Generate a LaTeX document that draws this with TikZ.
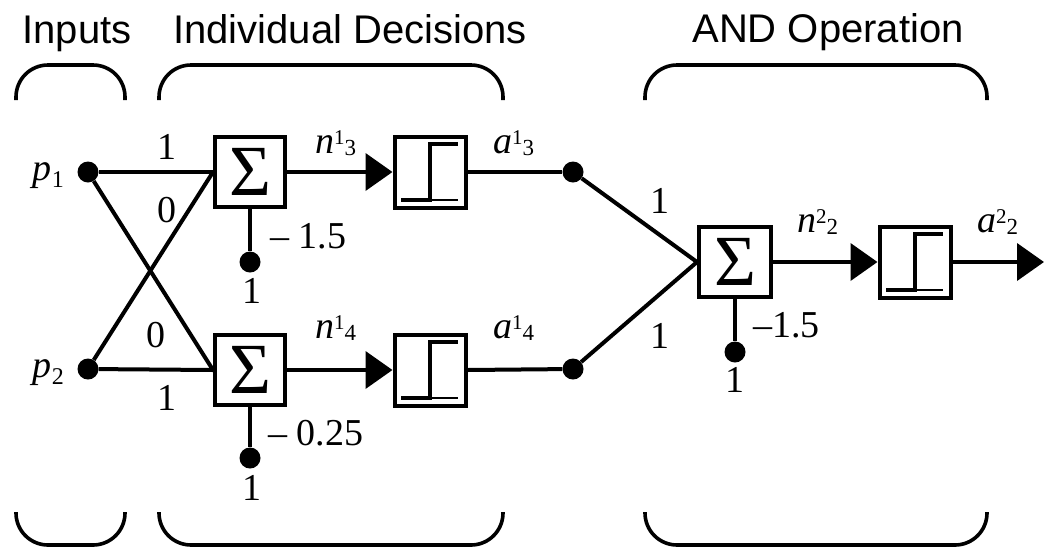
\documentclass[tikz,border=0pt]{standalone}
\usepackage{fontspec}
\setmainfont{Liberation Serif}
\newfontfamily\titlefont{Liberation Sans}
\usetikzlibrary{arrows.meta}
\newcommand{\lsupsub}[3]{\textit{#1}\raisebox{9pt}{\fontsize{21}{21}\selectfont #2}\raisebox{-2pt}{\fontsize{23}{23}\selectfont #3}}
\newcommand{\lsub}[2]{\textit{#1}\raisebox{-7pt}{\fontsize{24}{24}\selectfont #2}}
\begin{document}
\begin{tikzpicture}[x=1pt,y=-1pt,
  every node/.style={inner sep=0pt},
  wire/.style={line width=4pt},
  sumbox/.style={draw, line width=4pt, minimum width=70pt, minimum height=70pt, font=\fontsize{72}{72}\selectfont},
  hlbox/.style={draw, line width=4pt, minimum width=71pt, minimum height=71pt},
  dot/.style={circle, fill=black, minimum size=21pt},
  lbl/.style={font=\fontsize{38}{40}\selectfont, anchor=base},
  lblw/.style={font=\fontsize{38}{40}\selectfont, anchor=base west},
  ttl/.style={font=\titlefont\fontsize{40}{42}\selectfont, anchor=base},
  bracket/.style={line width=3.6pt, rounded corners=32pt},
  arr/.style={line width=4pt, -{Triangle[length=27pt 0 0,width=37pt 0 0]}},
  stepfn/.pic={
    \draw[line width=4pt] (-29,28) -- (0,28) -- (0,-28) -- (28,-28);
    \draw[line width=2pt] (0,28) -- (28,28);
  }
]
\useasboundingbox (0,0) rectangle (1044,547);

% titles
\node[ttl] (tin) at (77,43) {Inputs};
\node[ttl] (tdec) at (350,43) {Individual Decisions};
\node[ttl] (tand) at (828,42) {AND Operation};

% brackets
\draw[bracket] (16,100) -- (16,65) -- (125,65) -- (125,100);
\draw[bracket] (159,100) -- (159,65) -- (503,65) -- (503,100);
\draw[bracket] (645,100) -- (645,65) -- (987,65) -- (987,100);
\draw[bracket] (16,512) -- (16,545) -- (125,545) -- (125,512);
\draw[bracket] (159,512) -- (159,545) -- (503,545) -- (503,512);
\draw[bracket] (645,512) -- (645,545) -- (987,545) -- (987,512);

% nodes
\node[dot] (p1) at (88,172) {};
\node[dot] (p2) at (88,369) {};
\node[sumbox] (s1) at (250,172) {Σ};
\node[sumbox] (s2) at (250,370) {Σ};
\node[hlbox] (h1) at (430,172) {};
\node[hlbox] (h2) at (430,370) {};
\pic at (h1) {stepfn};
\pic at (h2) {stepfn};
\node[dot] (a1) at (573,172) {};
\node[dot] (a2) at (573,369) {};
\node[sumbox, minimum width=72pt] (s3) at (735,262) {Σ};
\node[hlbox] (h3) at (915,262) {};
\pic at (h3) {stepfn};
\coordinate (out) at (1044,262);
\node[dot] (b1) at (250,262) {};
\node[dot] (b2) at (250,458) {};
\node[dot] (b3) at (735,352) {};

% connectors
\draw[wire] (p1) -- (s1.west);
\draw[wire] (p1) -- (s2.west);
\draw[wire] (p2) -- (s1.west);
\draw[wire] (p2) -- (s2.west);
\draw[arr] (s1.east) -- (h1.west);
\draw[arr] (s2.east) -- (h2.west);
\draw[wire] (h1.east) -- (a1);
\draw[wire] (h2.east) -- (a2);
\draw[wire] (a1) -- (s3.west);
\draw[wire] (a2) -- (s3.west);
\draw[arr] (s3.east) -- (h3.west);
\draw[arr] (h3.east) -- (out);
\draw[wire] (s1.south) -- (b1);
\draw[wire] (s2.south) -- (b2);
\draw[wire] (s3.south) -- (b3);

% labels
\node[lbl, anchor=base east] (lp1) at (64,180) {\lsub{p}{1}};
\node[lbl, anchor=base east] (lp2) at (64,377) {\lsub{p}{2}};
\node[lbl] (w11) at (167,159) {1};
\node[lbl] (w12) at (167,222) {0};
\node[lbl] (w21) at (156,347) {0};
\node[lbl] (w22) at (167,410) {1};
\node[lblw] (bias1) at (270,248) {– 1.5};
\node[lblw] (bias2) at (268,445) {– 0.25};
\node[lbl] (one1) at (252,303) {1};
\node[lbl] (one2) at (252,500) {1};
\node[lblw] (n13) at (315,153) {\lsupsub{n}{1}{3}};
\node[lblw] (n14) at (315,338) {\lsupsub{n}{1}{4}};
\node[lblw] (a13) at (493,153) {\lsupsub{a}{1}{3}};
\node[lblw] (a14) at (493,338) {\lsupsub{a}{1}{4}};
\node[lbl] (w31) at (660,213) {1};
\node[lbl] (w32) at (660,348) {1};
\node[lblw] (bias3) at (753,337) {–1.5};
\node[lbl] (one3) at (735,392) {1};
\node[lblw] (n22) at (797,232) {\lsupsub{n}{2}{2}};
\node[lblw] (a22) at (977,232) {\lsupsub{a}{2}{2}};
\end{tikzpicture}
\end{document}
